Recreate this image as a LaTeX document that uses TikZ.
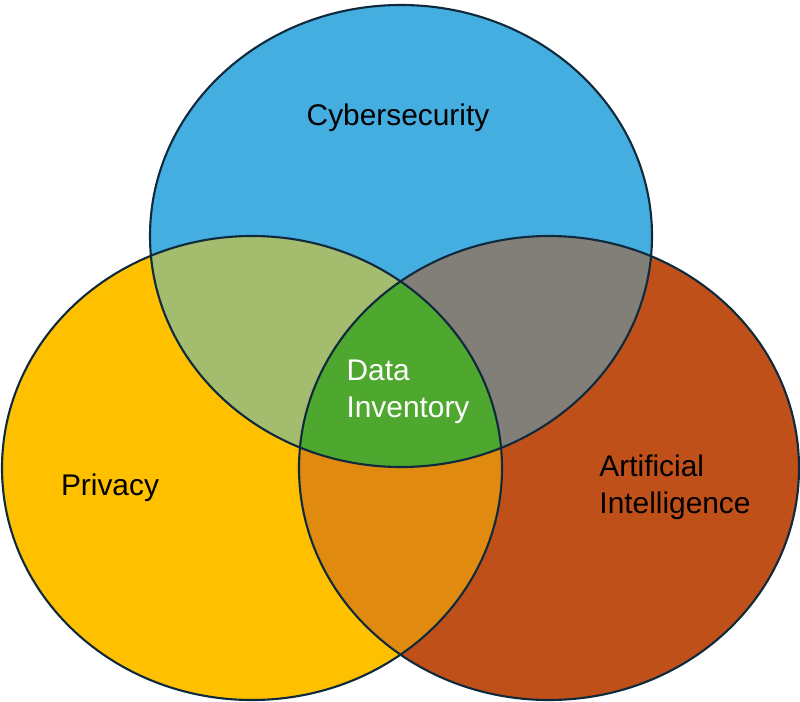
\documentclass[tikz,border=0pt]{standalone}
\usepackage{fontspec}
\setmainfont{Liberation Sans}
\definecolor{cyber}{HTML}{45AEE0}
\definecolor{priv}{HTML}{FFC000}
\definecolor{artint}{HTML}{C0501A}
\definecolor{cyberpriv}{HTML}{A3BC6E}
\definecolor{cyberai}{HTML}{827E78}
\definecolor{privai}{HTML}{E08A10}
\definecolor{core}{HTML}{4EA72E}
\definecolor{rim}{HTML}{0E2A3C}

\begin{document}
\begin{tikzpicture}[x=0.02cm,y=-0.02cm,
    label/.style={font=\fontsize{17}{21}\selectfont,align=left},
    rimline/.style={draw=rim,line width=1.2pt}]
\useasboundingbox (0,0) rectangle (800,702);
\def\cyberset{(401,236) ellipse [x radius=251,y radius=231]}
\def\privset{(252,468) ellipse [x radius=250,y radius=232]}
\def\aiset{(549,468) ellipse [x radius=250,y radius=232]}

% plain sets
\fill[cyber] \cyberset;
\fill[priv] \privset;
\fill[artint] \aiset;

% overlaps
\begin{scope}
  \clip \cyberset;
  \fill[cyberpriv] \privset;
  \fill[cyberai] \aiset;
\end{scope}
\begin{scope}
  \clip \privset;
  \fill[privai] \aiset;
\end{scope}
\begin{scope}
  \clip \cyberset;
  \clip \privset;
  \fill[core] \aiset;
\end{scope}

% outlines
\draw[rimline] \cyberset;
\draw[rimline] \privset;
\draw[rimline] \aiset;

\node[label] (cyb) at (398,118) {Cybersecurity};
\node[label] (pri) at (110,488) {Privacy};
\node[label] (art) at (675,487) {Artificial\\Intelligence};
\node[label,text=white] (dat) at (408,392) {Data\\Inventory};
\end{tikzpicture}
\end{document}
